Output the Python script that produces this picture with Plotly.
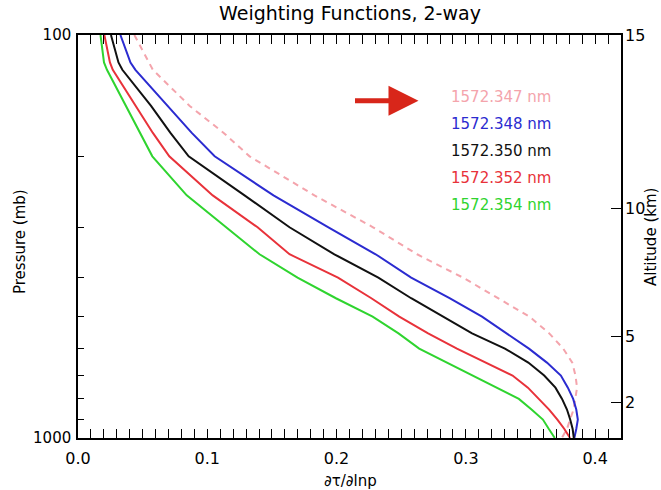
import plotly.graph_objects as go

# ---------------- data ----------------
pressure_mb = [100, 117, 122, 150, 175, 200, 250, 300, 350, 400, 450, 500,
               550, 600, 650, 700, 750, 800, 850, 900, 950, 1000]

wf_1572_347 = [0.0436, 0.0548, 0.0579, 0.0864, 0.1127, 0.1327, 0.1829, 0.2282,
               0.2623, 0.2978, 0.3255, 0.3492, 0.3645, 0.3753, 0.3823, 0.3848,
               0.3860, 0.3846, 0.3833, 0.3806, 0.3782, 0.3742]
wf_1572_348 = [0.0328, 0.0406, 0.0444, 0.0694, 0.0880, 0.1057, 0.1512, 0.1937,
               0.2302, 0.2577, 0.2874, 0.3125, 0.3318, 0.3488, 0.3627, 0.3735,
               0.3789, 0.3830, 0.3854, 0.3866, 0.3854, 0.3839]
wf_1572_350 = [0.0255, 0.0313, 0.0343, 0.0565, 0.0715, 0.0856, 0.1288, 0.1636,
               0.1983, 0.2323, 0.2577, 0.2824, 0.3048, 0.3302, 0.3483, 0.3606,
               0.3693, 0.3744, 0.3782, 0.3807, 0.3826, 0.3835]
wf_1572_352 = [0.0204, 0.0247, 0.0269, 0.0447, 0.0579, 0.0706, 0.1042, 0.1389,
               0.1636, 0.2011, 0.2269, 0.2485, 0.2708, 0.2931, 0.3148, 0.3361,
               0.3480, 0.3565, 0.3644, 0.3708, 0.3762, 0.3806]
wf_1572_354 = [0.0174, 0.0201, 0.0224, 0.0370, 0.0479, 0.0575, 0.0841, 0.1142,
               0.1404, 0.1698, 0.1995, 0.2279, 0.2479, 0.2639, 0.2855, 0.3056,
               0.3241, 0.3410, 0.3508, 0.3596, 0.3642, 0.3688]

series_labels = ["1572.347 nm", "1572.348 nm", "1572.350 nm", "1572.352 nm", "1572.354 nm"]
series_colors = ["#f4a4ac", "#2b2bd0", "#111111", "#e8323a", "#2fd42f"]
series_dash = ["6px,5px", "solid", "solid", "solid", "solid"]

x_tick_vals = [0.0, 0.1, 0.2, 0.3, 0.4]
x_tick_text = ["0.0", "0.1", "0.2", "0.3", "0.4"]
p_major_ticks = [100, 1000]
p_minor_ticks = [200, 300, 400, 500, 600, 700, 800, 900]
alt_tick_text = ["15", "10", "5", "2"]
alt_tick_pressure = [100, 270, 560, 815]

# ---------------- geometry helpers (pixel -> paper) ----------------
W, H = 661, 490
L, R, T, B = 78, 40, 35, 52
PW, PH = W - L - R, H - T - B


def px(xp):
    return (xp - L) / PW


def py(yp):
    return (H - B - yp) / PH


FONT = "DejaVu Sans"

fig = go.Figure()
all_series = [wf_1572_347, wf_1572_348, wf_1572_350, wf_1572_352, wf_1572_354]
for vals, lab, col, dash in zip(all_series, series_labels, series_colors, series_dash):
    fig.add_trace(go.Scatter(x=vals, y=pressure_mb, mode="lines", name=lab,
                             line=dict(color=col, width=2, dash=dash),
                             showlegend=False))
# invisible trace to activate the altitude axis
fig.add_trace(go.Scatter(x=wf_1572_350, y=pressure_mb, mode="lines", yaxis="y2",
                         line=dict(color="rgba(0,0,0,0)"), hoverinfo="skip",
                         showlegend=False))

axis_common = dict(showgrid=False, zeroline=False)
fig.update_layout(
    width=W, height=H,
    margin=dict(l=L, r=R, t=T, b=B, autoexpand=False),
    paper_bgcolor="white", plot_bgcolor="white",
    font=dict(family=FONT, size=15, color="black"),
    title=dict(text="Weighting Functions, 2-way", x=px(350), xref="paper",
               xanchor="center", y=1 - 13 / H, yref="container", yanchor="middle",
               font=dict(family=FONT, size=19, color="black")),
    xaxis=dict(range=[0, 0.42], tickmode="array", tickvals=x_tick_vals,
               ticktext=x_tick_text, ticks="inside", ticklen=9, tickwidth=1,
               tickcolor="black", showline=True, linecolor="black", linewidth=1.5,
               mirror="allticks", ticklabelstandoff=5,
               minor=dict(dtick=0.01, tick0=0, ticks="inside", ticklen=5,
                          tickwidth=1, tickcolor="black"),
               tickfont=dict(family=FONT, size=16), **axis_common),
    yaxis=dict(type="log", range=[3, 2], tickmode="array", tickvals=p_major_ticks,
               ticktext=[str(v) for v in p_major_ticks], ticks="inside", ticklen=9,
               tickcolor="black", showline=True, linecolor="black", linewidth=1.5,
               mirror=True, ticklabelstandoff=2,
               minor=dict(tickmode="array", tickvals=p_minor_ticks, ticks="inside",
                          ticklen=6, tickwidth=1, tickcolor="black"),
               tickfont=dict(family=FONT, size=15), **axis_common),
    yaxis2=dict(type="log", range=[3, 2], overlaying="y", side="right", anchor="x",
                tickmode="array", tickvals=alt_tick_pressure, ticktext=alt_tick_text,
                ticks="inside", ticklen=10, tickcolor="black", showline=False,
                ticklabelstandoff=3,
                tickfont=dict(family=FONT, size=16), **axis_common),
)

annotations = [
    dict(text="Pressure (mb)", x=px(20), y=py(242), xref="paper", yref="paper",
         textangle=-90, showarrow=False, font=dict(family=FONT, size=15),
         xanchor="center", yanchor="middle"),
    dict(text="Altitude (km)", x=px(651), y=py(237), xref="paper", yref="paper",
         textangle=-90, showarrow=False, font=dict(family=FONT, size=15),
         xanchor="center", yanchor="middle"),
    dict(text="\u2202\u03c4/\u2202lnp", x=px(350), y=py(481), xref="paper", yref="paper",
         showarrow=False, font=dict(family=FONT, size=15),
         xanchor="center", yanchor="middle"),
]
legend_y = [97, 124, 151, 178, 205]
for lab, col, yy in zip(series_labels, series_colors, legend_y):
    annotations.append(dict(text=lab, x=px(449), y=py(yy), xref="paper", yref="paper",
                            showarrow=False, xanchor="left", yanchor="middle",
                            font=dict(family=FONT, size=15, color=col)))
fig.update_layout(annotations=annotations)

# red arrow pointing at the first wavelength
arrow_pts = [(355, 98.3), (388.5, 98.3), (388.5, 85.7), (418.5, 100.8),
             (388.5, 115.7), (388.5, 103.3), (355, 103.3)]
path = "M " + " L ".join(f"{px(a):.5f},{py(b):.5f}" for a, b in arrow_pts) + " Z"
fig.add_shape(type="path", path=path, xref="paper", yref="paper",
              fillcolor="#d8261a", line=dict(color="#d8261a", width=0))

fig.write_html("out.html")
